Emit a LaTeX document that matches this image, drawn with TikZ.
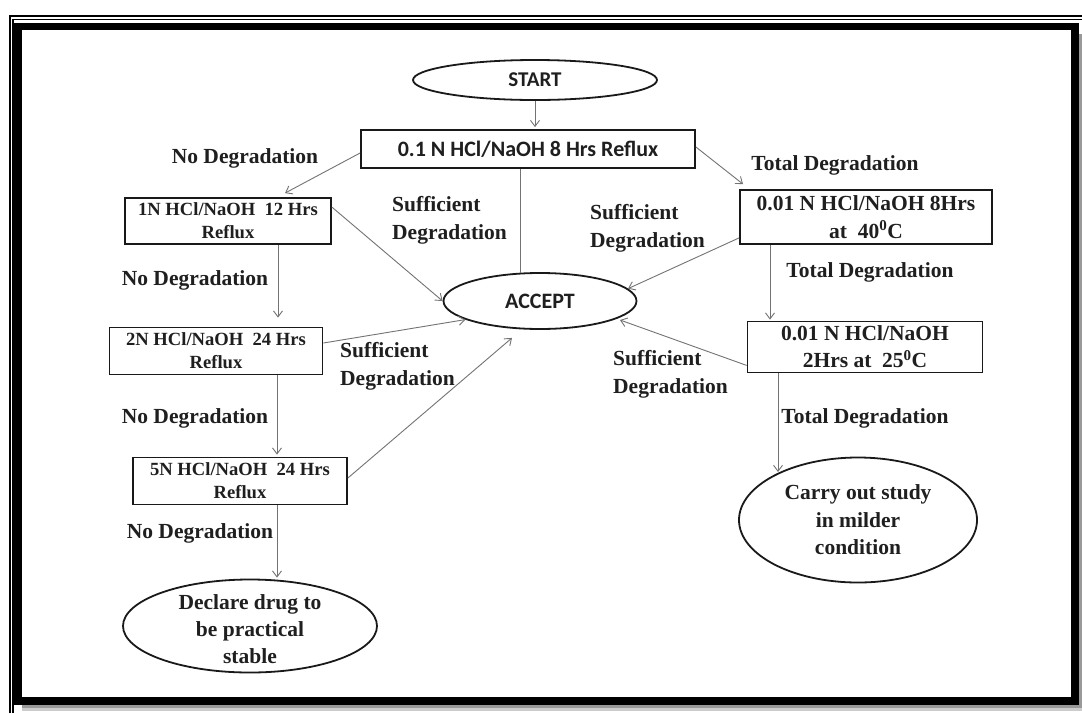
\documentclass[tikz,border=0pt]{standalone}
\usepackage{fontspec}
\setmainfont{Liberation Serif}
\newfontfamily\calfont{Carlito}
\usetikzlibrary{shapes.geometric,arrows.meta,calc}
\begin{document}
\begin{tikzpicture}[x=1pt,y=-1pt,
  box/.style={draw=black!90,line width=1.8pt,rectangle,inner sep=0pt},
  oval/.style={draw=black!90,line width=1.8pt,ellipse,inner sep=0pt},
  txt/.style={inner sep=0pt,align=center,text=black!88,font=\bfseries\fontsize{21.5}{28}\selectfont},
  smalltxt/.style={txt,font=\bfseries\fontsize{18.6}{23}\selectfont},
  sanstxt/.style={inner sep=0pt,text=black!88,font=\calfont\bfseries\fontsize{22}{26}\selectfont},
  lbl/.style={txt},
  lbll/.style={txt,align=left,anchor=west},
  link/.style={draw=black!55,line width=0.9pt},
  arr/.style={link,-{Straight Barb[length=6pt,width=9pt]}},
]
\useasboundingbox (0,0) rectangle (1082,713);
\fill[white] (0,0) rectangle (1082,713);

% page frame: thin double rule, shadow and heavy border
\draw[line width=1.5pt] (9.8,713) -- (9.8,15.8) -- (1082,15.8);
\draw[line width=1.3pt] (12.9,713) -- (12.9,19.8) -- (1082,19.8);
\fill[black!40] (22,705) rectangle (1082,708);
\fill[black!20] (22,708) rectangle (1082,711);
\fill[black!40] (1079,34) rectangle (1082,708);
\draw[line width=7.5pt] (18,26.3) rectangle (1075,701);

% process nodes
\node[oval,minimum width=244pt,minimum height=40pt] (start) at (535,80) {};
\node[sanstxt,font=\calfont\bfseries\fontsize{21}{25}\selectfont] (starttxt) at (start.center) {START};
\node[box,minimum width=334pt,minimum height=38pt] (b0) at (528,149) {};
\node[sanstxt] (b0txt) at (b0.center) {0.1 N HCl/NaOH 8 Hrs Reflux};
\node[oval,minimum width=193pt,minimum height=56pt] (accept) at (540,301) {};
\node[sanstxt] (accepttxt) at (accept.center) {ACCEPT};

\node[box,minimum width=206pt,minimum height=46pt] (b1) at (228,221) {};
\node[smalltxt] (b1txt) at (b1.center) {1N HCl/NaOH\ \ 12 Hrs\\Reflux};
\node[box,minimum width=213pt,minimum height=47pt] (b2) at (216,351) {};
\node[smalltxt] (b2txt) at (b2.center) {2N HCl/NaOH\ \ 24 Hrs\\Reflux};
\node[box,minimum width=214pt,minimum height=47pt] (b3) at (240,481) {};
\node[smalltxt] (b3txt) at (b3.center) {5N HCl/NaOH\ \ 24 Hrs\\Reflux};
\node[oval,minimum width=254pt,minimum height=93pt] (declare) at (250,626) {};
\node[txt,font=\bfseries\fontsize{21.5}{27}\selectfont] (declaretxt) at ($(declare.center)+(0,3)$) {Declare drug to\\be practical\\stable};

\node[box,minimum width=252pt,minimum height=54pt] (r1) at (866,217) {};
\node[txt] (r1txt) at (r1.center) {0.01 N HCl/NaOH 8Hrs\\at\ \ 40\textsuperscript{0}C};
\node[box,minimum width=235pt,minimum height=51pt] (r2) at (865,347) {};
\node[txt,font=\bfseries\fontsize{21.5}{27}\selectfont] (r2txt) at (r2.center) {0.01 N HCl/NaOH\\2Hrs at\ \ 25\textsuperscript{0}C};
\node[oval,minimum width=238pt,minimum height=125pt] (carry) at (858,520) {};
\node[txt,font=\bfseries\fontsize{21.5}{27.5}\selectfont] (carrytxt) at (carry.center) {Carry out study\\in milder\\condition};

% connectors
\draw[arr] (start.south) -- ($(b0.north)+(7,-2)$);
\draw[arr] ($(b0.west)+(0,4)$) -- ($(b1.north)+(57,-4)$);
\draw[link] ($(b0.south)+(-8,0)$) -- ($(accept.north)+(-20,1)$);
\draw[arr] ($(b0.east)+(0,-2)$) -- ($(r1.north)+(-123,-5)$);

\draw[arr] ($(b1.north east)+(0,10)$) -- (accept.west);
\draw[arr] ($(b1.south)+(50,0)$) -- ($(b2.north)+(62,-9)$);
\draw[arr] ($(b2.east)+(0,-8)$) -- (accept.194);
\draw[arr] ($(b2.south)+(61,0)$) -- ($(b3.north)+(37,-2)$);
\draw[arr] ($(b3.east)+(0,-3)$) -- ($(accept.south)+(-28,8)$);
\draw[arr] ($(b3.south)+(37,0)$) -- ($(declare.north)+(27,-1)$);

\draw[arr] ($(r1.south west)+(0,-7)$) -- (accept.8);
\draw[arr] ($(r1.south)+(-96,0)$) -- ($(r2.north)+(-95,-1)$);
\draw[arr] ($(r2.south west)+(0,-8)$) -- ($(accept.center)+(80,19)$);
\draw[arr] ($(r2.south)+(-87,0)$) -- ($(carry.center)+(-80,-48)$);

% branch labels
\node[lbl] (l1) at (245,158) {No Degradation};
\node[lbll] (l2) at (392,220) {Sufficient\\Degradation};
\node[lbl] (l3) at (835,165) {Total Degradation};
\node[lbl] (l4) at (195,280) {No Degradation};
\node[lbll] (l5) at (340,366) {Sufficient\\Degradation};
\node[lbl] (l6) at (195,418) {No Degradation};
\node[lbl] (l7) at (200,533) {No Degradation};
\node[lbll] (l8) at (590,228) {Sufficient\\Degradation};
\node[lbl] (l9) at (870,272) {Total Degradation};
\node[lbll] (l10) at (613,374) {Sufficient\\Degradation};
\node[lbl] (l11) at (865,418) {Total Degradation};
\end{tikzpicture}
\end{document}
